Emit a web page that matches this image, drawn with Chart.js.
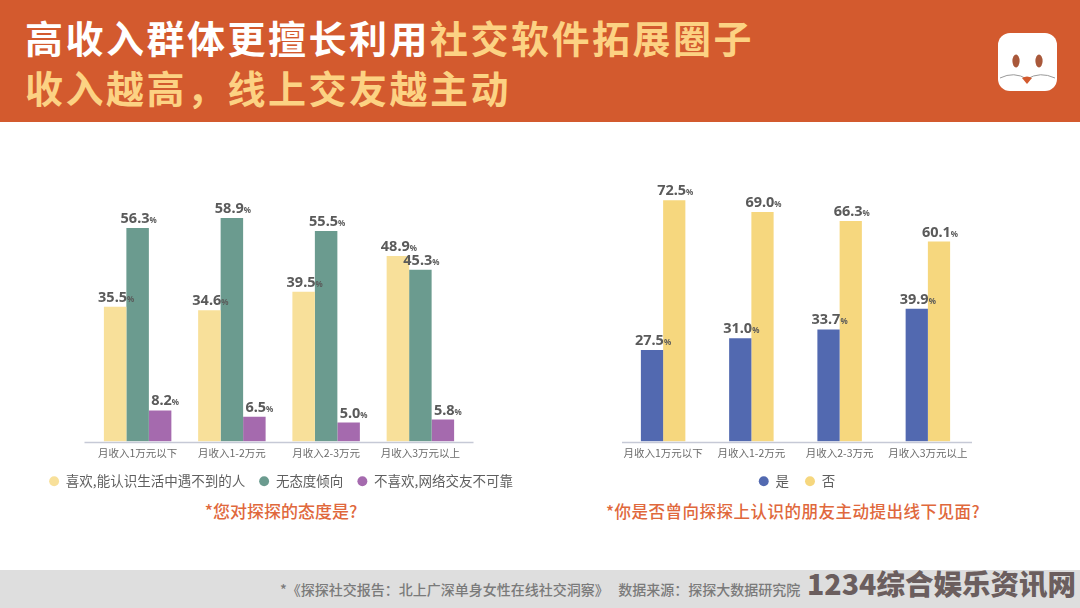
<!DOCTYPE html>
<html lang="zh-CN">
<head>
<meta charset="UTF-8">
<title>高收入群体更擅长利用社交软件拓展圈子</title>
<script src="https://cdn.jsdelivr.net/npm/chart.js"></script>
<style>
    html, body { margin: 0; padding: 0; background: #fff; }
    body {
        width: 1080px; height: 608px; position: relative; overflow: hidden;
        font-family: "Noto Sans CJK SC", "Noto Sans", sans-serif;
    }
    #header { position: absolute; left: 0; top: 0; width: 1080px; height: 122px; background: #d35a2e; }
    .headline {
        position: absolute; left: 25px; margin: 0; white-space: nowrap;
        font-size: 38px; line-height: 50px; font-weight: 700; letter-spacing: 2.5px; color: #fff;
    }
    .headline span, #line2 { color: #fcd283; }
    #line1 { top: 12px; }
    #line2 { top: 62px; }
    #logo { position: absolute; left: 996px; top: 31px; }
    canvas { position: absolute; }
    #leftChart { left: 20px; top: 170px; }
    #rightChart { left: 590px; top: 170px; }
    .question {
        position: absolute; top: 499px; margin: 0; white-space: nowrap; transform: translateX(-50%);
        font-size: 17px; line-height: 24px; font-weight: 500; color: #e0683c;
    }
    #footer { position: absolute; left: 0; top: 570px; width: 1080px; height: 38px; background: #dedede; }
    #source {
        position: absolute; left: 280px; top: 9px; white-space: nowrap;
        font-size: 14px; line-height: 20px; font-weight: 500; color: #7a7a7a;
    }
    #mark {
        position: absolute; left: 807px; top: -3px; white-space: nowrap;
        font-size: 28.5px; line-height: 32px; font-weight: 900; color: #6b5e5e;
    }
</style>
</head>
<body>
<div id="header">
    <h1 class="headline" id="line1">高收入群体更擅长利用<span>社交软件拓展圈子</span></h1>
    <h1 class="headline" id="line2">收入越高&#xFF0C;线上交友越主动</h1>
    <svg id="logo" width="62" height="62" viewBox="0 0 62 62">
        <rect x="2" y="2" width="59" height="58" rx="12" fill="#fff"/>
        <ellipse cx="20" cy="30" rx="3.6" ry="6.5" fill="#a9583a"/>
        <ellipse cx="43" cy="30" rx="3.6" ry="6.5" fill="#a9583a"/>
        <path d="M4 47 Q18 40 31 48 Q44 40 59 47" fill="none" stroke="#9a9a9a" stroke-width="1"/>
        <path d="M26 47 Q31 44 36 47 L31 53 Z" fill="#d35a2e"/>
    </svg>
</div>

<canvas id="leftChart" width="522" height="328"></canvas>
<canvas id="rightChart" width="414" height="328"></canvas>

<p class="question" style="left:281px">*您对探探的态度是?</p>
<p class="question" style="left:793px;font-size:16.5px;letter-spacing:.5px">*你是否曾向探探上认识的朋友主动提出线下见面?</p>

<div id="footer">
    <div id="source">*《探探社交报告&#xFF1A;北上广深单身女性在线社交洞察》&nbsp;&nbsp;&nbsp;数据来源&#xFF1A;探探大数据研究院</div>
    <div id="mark">1234综合娱乐资讯网</div>
</div>

<script>
    const categories = ['月收入1万元以下', '月收入1-2万元', '月收入2-3万元', '月收入3万元以上'];

    // 左图:您对探探的态度是?(values as printed above the bars)
    const attitudeNames = ['喜欢,能认识生活中遇不到的人', '无态度倾向', '不喜欢,网络交友不可靠'];
    const attitudeLike = [35.5, 34.6, 39.5, 48.9];
    const attitudeNeutral = [56.3, 58.9, 55.5, 45.3];
    const attitudeDislike = [8.2, 6.5, 5.0, 5.8];

    // 右图:你是否曾向探探上认识的朋友主动提出线下见面?
    const meetNames = ['是', '否'];
    const meetYes = [27.5, 31.0, 33.7, 39.9];
    const meetNo = [72.5, 69.0, 66.3, 60.1];

    const FONT = '"Noto Sans CJK SC", "Noto Sans", sans-serif';

    // 柱顶数值,小号的 % 单独画
    const valueLabels = {
        id: 'valueLabels',
        afterDatasetsDraw(chart) {
            const c = chart.ctx;
            c.save();
            c.textBaseline = 'alphabetic';
            c.fillStyle = '#5a5a5a';
            chart.data.datasets.forEach((ds, i) => {
                chart.getDatasetMeta(i).data.forEach((bar, j) => {
                    const num = ds.data[j].toFixed(1);
                    c.font = '700 14.5px "Noto Sans", sans-serif';
                    const w1 = c.measureText(num).width;
                    c.font = '700 8px "Noto Sans", sans-serif';
                    const w2 = c.measureText('%').width;
                    const x = bar.x + (ds.labelShift || 1) - (w1 + w2) / 2;
                    const y = bar.y - 5;
                    c.font = '700 14.5px "Noto Sans", sans-serif';
                    c.fillText(num, x, y);
                    c.font = '700 8px "Noto Sans", sans-serif';
                    c.fillText('%', x + w1, y);
                });
            });
            c.restore();
        }
    };

    // 基线比分类区间略宽
    const baseLine = {
        id: 'baseLine',
        afterDraw(chart, args, opts) {
            const c = chart.ctx;
            const y = Math.round(chart.scales.y.getPixelForValue(0)) + 0.5;
            c.save();
            c.strokeStyle = '#c6c9d6';
            c.lineWidth = 1.5;
            c.beginPath();
            c.moveTo(chart.chartArea.left + opts.left, y);
            c.lineTo(chart.chartArea.right + opts.right, y);
            c.stroke();
            c.restore();
        }
    };

    // 图例要占满画布宽度,所以左右留白用两根不显示内容的轴撑出来
    const spacerAxis = (position, width, max) => ({
        position, min: 0, max,
        grid: { display: false },
        border: { display: false },
        ticks: { display: false },
        afterFit(s) { s.width = width; }
    });

    function makeChart(id, datasets, o) {
        return new Chart(document.getElementById(id), {
            type: 'bar',
            data: { labels: categories, datasets: datasets },
            plugins: [valueLabels, baseLine],
            options: {
                responsive: false,
                animation: false,
                categoryPercentage: o.groupShare,
                barPercentage: 1,
                layout: { padding: { top: o.top } },
                scales: {
                    x: {
                        grid: { display: false, drawTicks: false },
                        border: { display: false },
                        afterFit(s) { s.height = o.tickBand; },
                        ticks: {
                            autoSkip: false, maxRotation: 0, padding: 5,
                            color: '#6b6b6b', font: { family: FONT, size: 10.5 }
                        }
                    },
                    y: spacerAxis('left', o.left, o.max),
                    yRight: spacerAxis('right', o.right, o.max)
                },
                plugins: {
                    tooltip: { enabled: false },
                    baseLine: { left: o.lineLeft, right: o.lineRight },
                    legend: {
                        position: 'bottom',
                        labels: {
                            usePointStyle: true, pointStyle: 'circle', boxWidth: 10, boxHeight: 7,
                            padding: o.legendGap, color: '#5f5f5f',
                            font: { family: FONT, size: 13.5 }
                        }
                    }
                }
            }
        });
    }

    const series = (label, data, color, labelShift) => ({ label, data, backgroundColor: color, borderWidth: 0, labelShift });

    makeChart('leftChart', [
        series(attitudeNames[0], attitudeLike, '#f8e09a'),
        series(attitudeNames[1], attitudeNeutral, '#6b9b8f'),
        series(attitudeNames[2], attitudeDislike, '#a56aae', 5)
    ], { groupShare: 0.716, left: 70.5, right: 74.5, top: 6, max: 70, lineLeft: -6, lineRight: 6, legendGap: 14, tickBand: 19 });

    makeChart('rightChart', [
        series(meetNames[0], meetYes, '#5269b0'),
        series(meetNames[1], meetNo, '#f6d77e')
    ], { groupShare: 0.504, left: 29, right: 32, top: 22, max: 75, lineLeft: 3, lineRight: 0, legendGap: 16, tickBand: 17 });
</script>
</body>
</html>
